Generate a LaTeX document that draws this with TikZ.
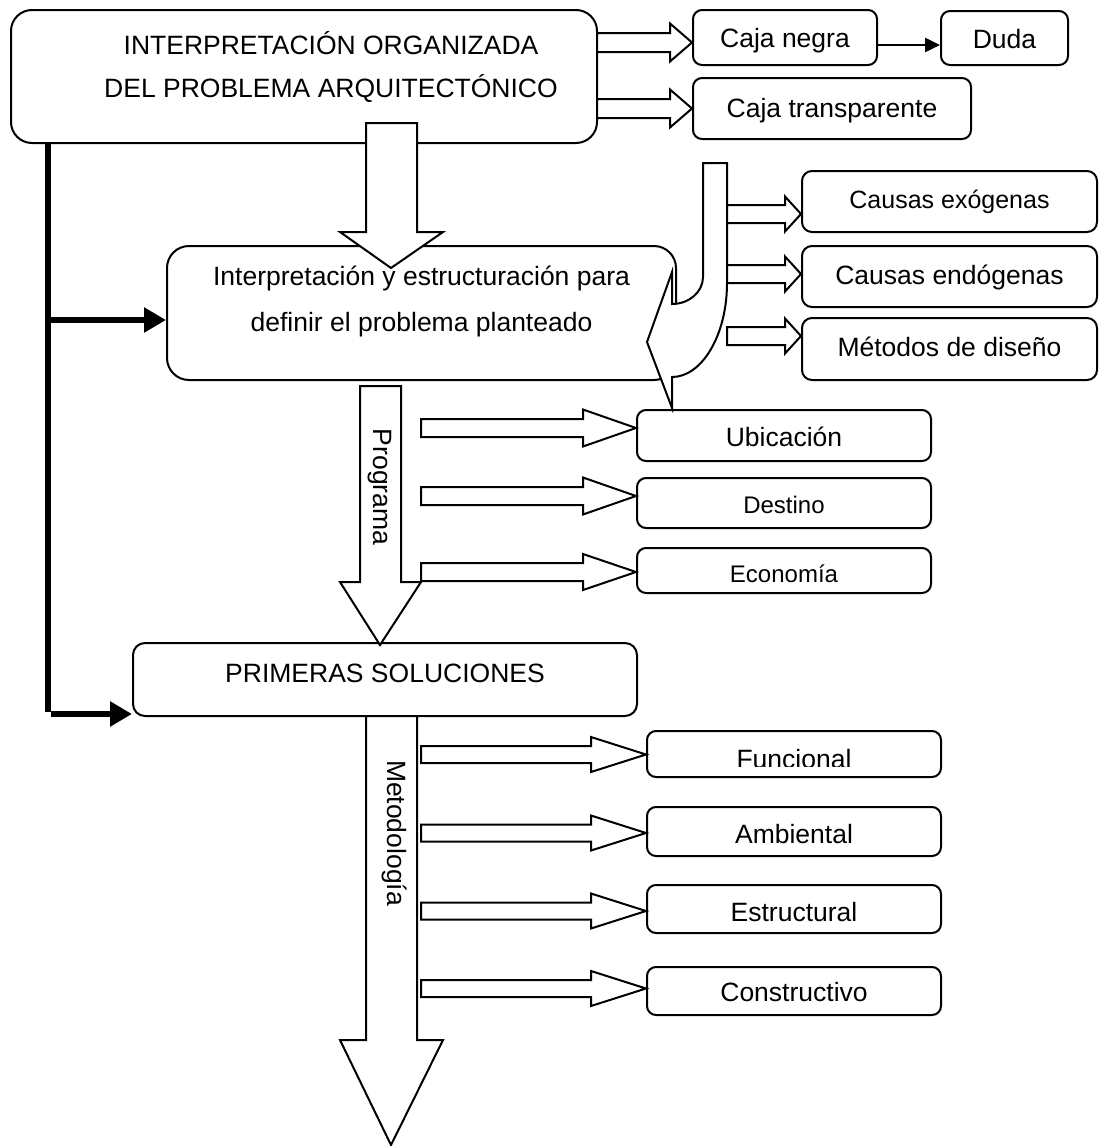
\documentclass[tikz,border=0pt]{standalone}
\usepackage{fontspec}
\setmainfont{Liberation Sans}
\usetikzlibrary{arrows.meta,calc}

% horizontal block arrow: start x, head base x, target node, axis y, shaft half height, head half height
\newcommand\harrow[6]{%
  \draw[blockarr] (#1,#4-#5) -- (#2,#4-#5) -- (#2,#4-#6) -- (#3.west |- 0,#4)
    -- (#2,#4+#6) -- (#2,#4+#5) -- (#1,#4+#5) -- cycle;}
% vertical block arrow: shaft left x, shaft right x, top y, head base y, head left x, head right x, tip
\newcommand\varrow[7]{%
  \draw[blockarr] (#1,#3) -- (#2,#3) -- (#2,#4) -- (#6,#4) -- (#7)
    -- (#5,#4) -- (#1,#4) -- cycle;}

\begin{document}
\begin{tikzpicture}[x=1pt,y=-1pt,
  box/.style={draw, line width=2pt, inner sep=0pt, fill=white, rounded corners=#1},
  box/.default=9pt,
  sz/.style 2 args={minimum width=#1, minimum height=#2},
  blockarr/.style={draw, line width=2pt, fill=white, line join=miter},
  lbl/.style={anchor=base, inner sep=0pt, font=\fontsize{26.5pt}{32pt}\selectfont},
  lblsm/.style={anchor=base, inner sep=0pt, font=\fontsize{24pt}{29pt}\selectfont},
  vlbl/.style={inner sep=0pt, rotate=-90, font=\fontsize{26.5pt}{32pt}\selectfont},
  feed/.style={line width=6pt, -{Triangle[length=22pt,width=24pt]}},
]
\fill[white] (0,0) rectangle (1100,1146);
\useasboundingbox (0,0) rectangle (1100,1146);

% boxes
\node[box=21pt, sz={586pt}{133pt}] (top)    at (304,76.5)   {};
\node[box, sz={184pt}{55pt}]       (negra)  at (785,37.5)   {};
\node[box, sz={127pt}{54pt}]       (duda)   at (1004.5,38)  {};
\node[box, sz={278pt}{61pt}]       (transp) at (832,108.5)  {};
\node[box=22pt, sz={509pt}{134pt}] (mid)    at (421.5,313)  {};
\node[box=10pt, sz={295pt}{61pt}]  (exo)    at (949.5,201.5){};
\node[box=10pt, sz={295pt}{61pt}]  (endo)   at (949.5,276.5){};
\node[box=10pt, sz={295pt}{62pt}]  (metd)   at (949.5,349)  {};
\node[box, sz={294pt}{51pt}]       (ubic)   at (784,435.5)  {};
\node[box, sz={294pt}{50pt}]       (dest)   at (784,503)    {};
\node[box, sz={294pt}{45pt}]       (econ)   at (784,570.5)  {};
\node[box=12pt, sz={504pt}{73pt}]  (prim)   at (385,679.5)  {};
\node[box, sz={294pt}{46pt}]       (func)   at (794,754)    {};
\node[box, sz={294pt}{49pt}]       (amb)    at (794,831.5)  {};
\node[box, sz={294pt}{48pt}]       (estr)   at (794,909)    {};
\node[box, sz={294pt}{48pt}]       (cons)   at (794,991)    {};

% curved arrow turning back into the middle box
\draw[blockarr] (703,163) -- (727,163) -- (727,283)
  .. controls (727,335) and (702,377) .. (672,377) -- (672,408) -- (647,342)
  -- (672,272) -- (672,304) .. controls (689,304) and (703,292) .. (703,277) -- cycle;

% down arrows
\varrow{366}{417}{123}{232}{340}{443}{391,268}
\varrow{360}{401}{386}{582}{340}{421}{380,645}
\varrow{366}{417}{716}{1040}{340}{443}{391,1145}

% block arrows to the side boxes
\harrow{597}{670}{negra}{42.5}{9.5}{19}
\harrow{597}{670}{transp}{108.5}{9.5}{19}
\harrow{727}{785}{exo}{214}{9}{17.5}
\harrow{727}{785}{endo}{274}{9}{17.5}
\harrow{727}{785}{metd}{336}{9}{17.5}
\harrow{421}{583}{ubic}{428}{9}{18.5}
\harrow{421}{583}{dest}{496}{9}{18.5}
\harrow{421}{583}{econ}{572}{9}{18}
\harrow{421}{591}{func}{754.5}{8.5}{17.5}
\harrow{421}{591}{amb}{833}{8.5}{17.5}
\harrow{421}{591}{estr}{911}{8.5}{17.5}
\harrow{421}{591}{cons}{988.5}{8.5}{17.5}

% thin arrow between the black-box nodes
\draw[line width=2.5pt, -{Triangle[length=15pt,width=14pt]}]
  (negra.east |- 0,45) -- (duda.west |- 0,45);

% thick feedback line on the left
\coordinate (fbtop) at (top.south -| 47.5,0);
\coordinate (fbbot) at (47.5,712);
\draw[line width=6pt] (fbtop) -- (fbbot);
\draw[feed] (45,320) -- (mid.west |- 0,320);
\draw[feed] (51,714) -- (prim.west |- 0,714);

% labels
\node[lbl] (tTop1) at (331,54) {INTERPRETACIÓN ORGANIZADA};
\node[lbl] (tTop2) at (331,97) {DEL PROBLEMA ARQUITECTÓNICO};
\node[lbl] (tNegra) at (785,47) {Caja negra};
\node[lbl] (tDuda) at (1004.5,48) {Duda};
\node[lbl] (tTransp) at (832,117) {Caja transparente};
\node[lbl] (tMid1) at (421.5,285) {Interpretación y estructuración para};
\node[lbl] (tMid2) at (421.5,331) {definir el problema planteado};
\node[lbl, font=\fontsize{25pt}{30pt}\selectfont] (tExo) at (949.5,208) {Causas exógenas};
\node[lbl] (tEndo) at (949.5,284) {Causas endógenas};
\node[lbl] (tMetd) at (949.5,356) {Métodos de diseño};
\node[lbl] (tUbic) at (784,446) {Ubicación};
\node[lblsm] (tDest) at (784,513) {Destino};
\node[lblsm] (tEcon) at (784,582) {Economía};
\node[lbl] (tPrim) at (385,682) {PRIMERAS SOLUCIONES};
\begin{scope}
  \clip (647,731) rectangle (941,766);
  \node[lbl] (tFunc) at (794,768) {Funcional};
\end{scope}
\node[lbl] (tAmb) at (794,843) {Ambiental};
\node[lbl] (tEstr) at (794,921) {Estructural};
\node[lbl] (tCons) at (794,1001) {Constructivo};
\node[vlbl] (tProg) at (380,487) {Programa};
\node[vlbl] (tMet) at (395,833) {Metodología};
\end{tikzpicture}
\end{document}
